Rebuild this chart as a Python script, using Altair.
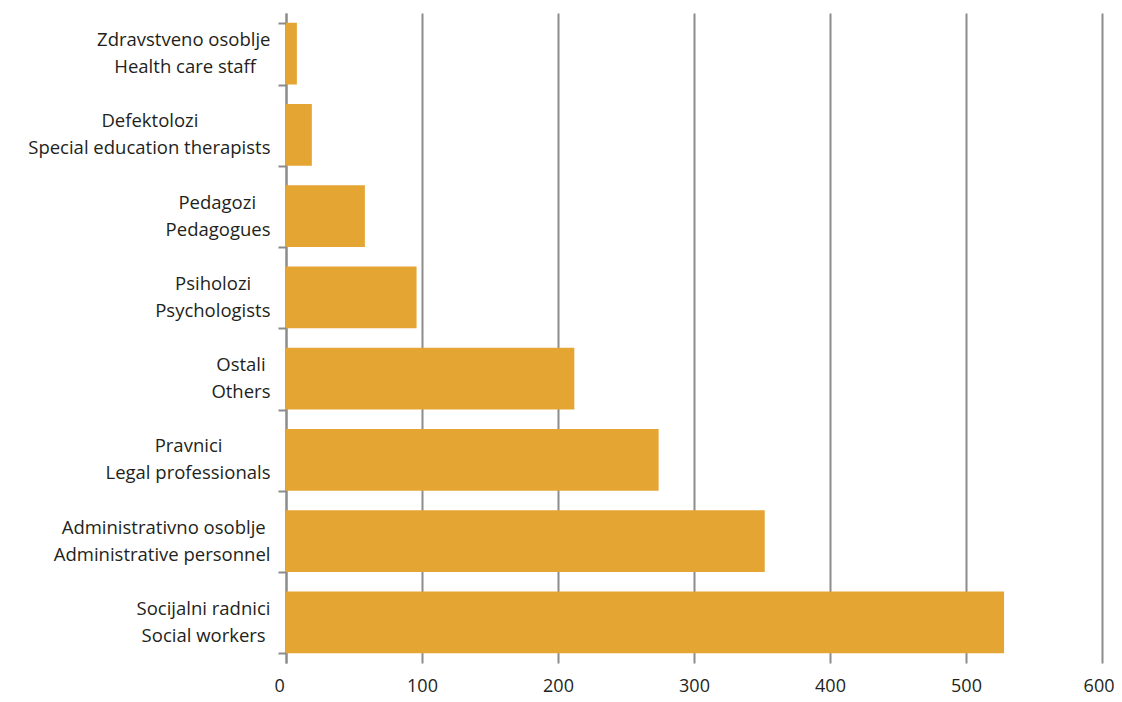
import altair as alt
import pandas as pd

# Category names (Serbian / English) and values, top to bottom
serbian = ["Zdravstveno osoblje", "Defektolozi", "Pedagozi", "Psiholozi", "Ostali",
           "Pravnici", "Administrativno osoblje", "Socijalni radnici"]
english = ["Health care staff", "Special education therapists", "Pedagogues", "Psychologists",
           "Others", "Legal professionals", "Administrative personnel", "Social workers"]
values = [8, 19, 58, 96, 212, 274, 352, 528]
x_ticks = [0, 100, 200, 300, 400, 500, 600]

# rough glyph widths (em) to centre the shorter line under the longer one
_narrow = set("ijlI'.,")
_semi = set("frt")
_wide = set("mwMW")
def text_width(s):
    w = 0.0
    for ch in s:
        if ch == " ":
            w += 0.26
        elif ch in _narrow:
            w += 0.25
        elif ch in _semi:
            w += 0.37
        elif ch in _wide:
            w += 0.85
        elif ch.isupper():
            w += 0.64
        else:
            w += 0.55
    return w

NBSP = "\u00a0"
ZWSP = "\u200b"  # keeps the trailing padding from being trimmed

def two_line(a, b):
    wa, wb = text_width(a), text_width(b)
    pad = round(abs(wa - wb) / 2 / 0.26)
    if pad > 0:
        if wa < wb:
            a = a + NBSP * pad + ZWSP
        else:
            b = b + NBSP * pad + ZWSP
    return a + "|" + b

labels = [two_line(a, b) for a, b in zip(serbian, english)]
df = pd.DataFrame({"label": labels, "value": values})

FONT = "Open Sans"
GRAY = "#8c8c8c"
TEXT = "#231f20"

chart = alt.Chart(df).mark_bar(color="#E5A532").encode(
    y=alt.Y(
        "label:N",
        sort=labels,
        scale=alt.Scale(paddingInner=0.24, paddingOuter=0.12),
        axis=alt.Axis(
            title=None,
            labelExpr="split(datum.label, '|')",
            labelAlign="right",
            labelFont=FONT,
            labelFontSize=18.5,
            labelColor=TEXT,
            labelLineHeight=27,
            labelPadding=8,
            labelOffset=-14,
            labelLimit=400,
            tickBand="extent",
            tickSize=8,
            tickColor=GRAY,
            tickWidth=2,
            domainColor=GRAY,
            domainWidth=2,
            grid=False,
        ),
    ),
    x=alt.X(
        "value:Q",
        scale=alt.Scale(domain=[0, 600], nice=False),
        axis=alt.Axis(
            title=None,
            values=x_ticks,
            format="d",
            grid=True,
            gridColor=GRAY,
            gridWidth=2,
            domain=False,
            ticks=False,
            labelFont=FONT,
            labelFontSize=18,
            labelColor=TEXT,
            labelPadding=14,
            labelFlush=True,
            labelFlushOffset=12,
        ),
    ),
).properties(
    width=816,
    height=650,
    autosize="none",
    padding={"left": 278, "top": 5, "right": 12, "bottom": 33},
).configure_view(stroke=None)

chart.save("out.html", embed_options={"renderer": "svg", "actions": False})
